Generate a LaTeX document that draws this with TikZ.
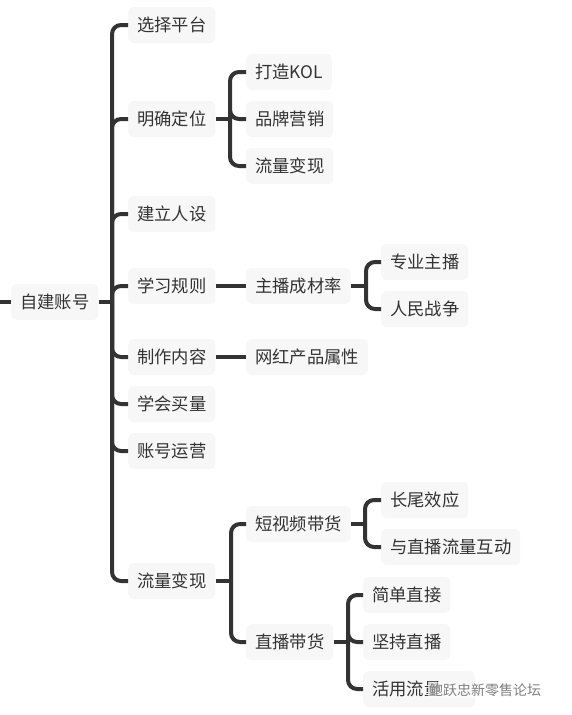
\documentclass[tikz,border=0pt]{standalone}
\usepackage{fontspec}
\setmainfont{Noto Sans CJK SC}
\definecolor{boxgray}{HTML}{F7F7F7}
\definecolor{txt}{HTML}{333333}
\definecolor{ln}{HTML}{333333}
\definecolor{wm}{HTML}{808080}
\begin{document}
\begin{tikzpicture}[x=1pt,y=-1pt,
  tnode/.style={fill=boxgray, rounded corners=5pt, inner xsep=9pt, inner ysep=0pt,
    minimum height=36pt, anchor=west, text=txt, font=\fontsize{17.3}{20}\selectfont},
  conn/.style={draw=ln, line width=4pt},
  bendline/.style={conn, rounded corners=9pt},
  wmark/.style={anchor=west, text=wm, fill=white, fill opacity=0.6, text opacity=1,
    inner sep=1pt, font=\fontsize{14}{16}\selectfont}]
\useasboundingbox (0,0) rectangle (572,715);

% root
\node[tnode] (root) at (11,302) {自建账号};
% level 1
\node[tnode] (a1) at (128,25) {选择平台};
\node[tnode] (a2) at (128,119) {明确定位};
\node[tnode] (a3) at (128,214) {建立人设};
\node[tnode] (a4) at (128,286) {学习规则};
\node[tnode] (a5) at (128,357) {制作内容};
\node[tnode] (a6) at (128,404) {学会买量};
\node[tnode] (a7) at (128,451) {账号运营};
\node[tnode] (a8) at (128,581) {流量变现};
% level 2
\node[tnode] (b1) at (246,72) {打造KOL};
\node[tnode] (b2) at (246,119) {品牌营销};
\node[tnode] (b3) at (246,166) {流量变现};
\node[tnode] (c1) at (246,286) {主播成材率};
\node[tnode] (d1) at (246,357) {网红产品属性};
\node[tnode] (e1) at (246,524) {短视频带货};
\node[tnode] (e2) at (246,642) {直播带货};
% level 3
\node[tnode] (f1) at (381,262) {专业主播};
\node[tnode] (f2) at (381,309) {人民战争};
\node[tnode] (g1) at (381,500) {长尾效应};
\node[tnode] (g2) at (381,547) {与直播流量互动};
\node[tnode] (h1) at (363,595) {简单直接};
\node[tnode] (h2) at (363,642) {坚持直播};
\node[tnode, text width=94pt, align=left] (h3) at (363,689) {活用流量};

% junctions
\coordinate (lft) at (0,302);
\coordinate (j0) at (112,302);
\coordinate (j1) at (230,119);
\coordinate (j2) at (366,286);
\coordinate (j3) at (231,581);
\coordinate (j4) at (365,524);
\coordinate (j5) at (348,642);

% connectors
\draw[conn] (lft) -- (root.west);
\draw[conn] (root.east) -- (j0);
\foreach \c in {a1,a2,a3,a4,a5,a6,a7,a8} \draw[bendline] (j0) |- (\c.west);

\draw[conn] (a2.east) -- (j1);
\foreach \c in {b1,b2,b3} \draw[bendline] (j1) |- (\c.west);

\draw[conn] (a4.east) -- (c1.west);
\draw[conn] (c1.east) -- (j2);
\foreach \c in {f1,f2} \draw[bendline] (j2) |- (\c.west);

\draw[conn] (a5.east) -- (d1.west);

\draw[conn] (a8.east) -- (j3);
\foreach \c in {e1,e2} \draw[bendline] (j3) |- (\c.west);

\draw[conn] (e1.east) -- (j4);
\foreach \c in {g1,g2} \draw[bendline] (j4) |- (\c.west);

\draw[conn] (e2.east) -- (j5);
\foreach \c in {h1,h2,h3} \draw[bendline] (j5) |- (\c.west);

% watermark
\node[wmark] (wm) at (428,690) {鲍跃忠新零售论坛};
\end{tikzpicture}
\end{document}
